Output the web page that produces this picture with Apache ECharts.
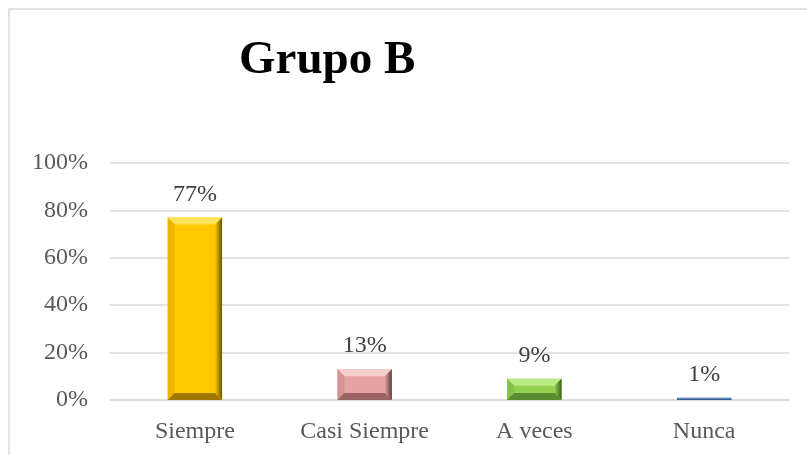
<!DOCTYPE html>
<html>
<head>
<meta charset="utf-8">
<script src="https://cdn.jsdelivr.net/npm/echarts@6/dist/echarts.min.js"></script>
<style>
  html, body { margin: 0; padding: 0; background: #fff; }
  #chart { width: 807px; height: 455px; }
</style>
</head>
<body>
<div id="chart"></div>
<script>
// datos del grafico
var categorias = ['Siempre', 'Casi Siempre', 'A veces', 'Nunca'];
var valores = [77, 13, 9, 1];
var ticksY = ['0%', '20%', '40%', '60%', '80%', '100%'];

// colores de cada barra (cara frontal, arriba, izquierda, derecha, abajo)
var caras = [
  ['#FFC800', '#FFE45A', '#EDB400', '#6E5200', '#A07800'],
  ['#E6A3A1', '#F6CFCD', '#D69290', '#5E3A39', '#9A6462'],
  ['#92D050', '#BCEB86', '#84C244', '#3A5E1C', '#5C8A30'],
  ['#4F81BD', '#7FA6D6', '#4573AB', '#2A4A70', '#36598A']
];

var myChart = echarts.init(document.getElementById('chart'));

function dibujaBarra(params, api) {
  var i = api.value(0);
  var v = api.value(1);
  var arriba = api.coord([i, v]);
  var base = api.coord([i, 0]);
  var ancho = api.size([1, 0])[0] * 0.32;
  var x0 = arriba[0] - ancho / 2, x1 = arriba[0] + ancho / 2;
  var y0 = arriba[1], y1 = base[1];
  var h = y1 - y0;
  var b = Math.min(7, h / 2, ancho / 2);
  var c = caras[i];
  var derecha = new echarts.graphic.LinearGradient(0, 0, 1, 0, [
    { offset: 0, color: c[0] }, { offset: 1, color: c[3] }
  ]);
  return {
    type: 'group',
    children: [
      { type: 'rect', shape: { x: x0, y: y0, width: ancho, height: h }, style: { fill: c[0] } },
      { type: 'polygon', shape: { points: [[x0, y0], [x1, y0], [x1 - b, y0 + b], [x0 + b, y0 + b]] }, style: { fill: c[1] } },
      { type: 'polygon', shape: { points: [[x0, y0], [x0 + b, y0 + b], [x0 + b, y1 - b], [x0, y1]] }, style: { fill: c[2] } },
      { type: 'polygon', shape: { points: [[x1, y0], [x1, y1], [x1 - b, y1 - b], [x1 - b, y0 + b]] }, style: { fill: derecha } },
      { type: 'polygon', shape: { points: [[x0, y1], [x0 + b, y1 - b], [x1 - b, y1 - b], [x1, y1]] }, style: { fill: c[4] } },
      { type: 'text', x: arriba[0], y: y0 - 11,
        style: { text: v + '%', fill: '#404040', font: '24px "Liberation Serif", serif', align: 'center', verticalAlign: 'bottom' } }
    ]
  };
}

var option = {
  backgroundColor: '#fff',
  animation: false,
  title: {
    text: 'Grupo B',
    left: 234,
    top: 32,
    textStyle: { fontFamily: 'Liberation Serif', fontWeight: 'bold', fontSize: 47, color: '#000' }
  },
  graphic: [{
    type: 'rect',
    shape: { x: 9, y: 9, width: 900, height: 600 },
    style: { fill: 'none', stroke: '#d9d9d9', lineWidth: 1.5 },
    silent: true
  }],
  grid: { left: 110, right: 18, top: 163, bottom: 55 },
  xAxis: {
    type: 'category',
    data: categorias,
    axisLine: { show: true, lineStyle: { color: '#d9d9d9', width: 1.5 } },
    axisTick: { show: false },
    axisLabel: { color: '#595959', fontFamily: 'Liberation Serif', fontSize: 24, margin: 20 }
  },
  yAxis: {
    type: 'value',
    min: 0,
    max: 100,
    interval: 20,
    axisLine: { show: false },
    axisTick: { show: false },
    splitLine: { lineStyle: { color: '#d9d9d9', width: 1.5 } },
    axisLabel: {
      color: '#595959', fontFamily: 'Liberation Serif', fontSize: 24, margin: 22,
      formatter: function (val) { return ticksY[val / 20]; }
    }
  },
  series: [{
    type: 'custom',
    renderItem: dibujaBarra,
    encode: { x: 0, y: 1 },
    data: valores.map(function (v, i) { return [i, v]; })
  }]
};
myChart.setOption(option);
</script>
</body>
</html>
